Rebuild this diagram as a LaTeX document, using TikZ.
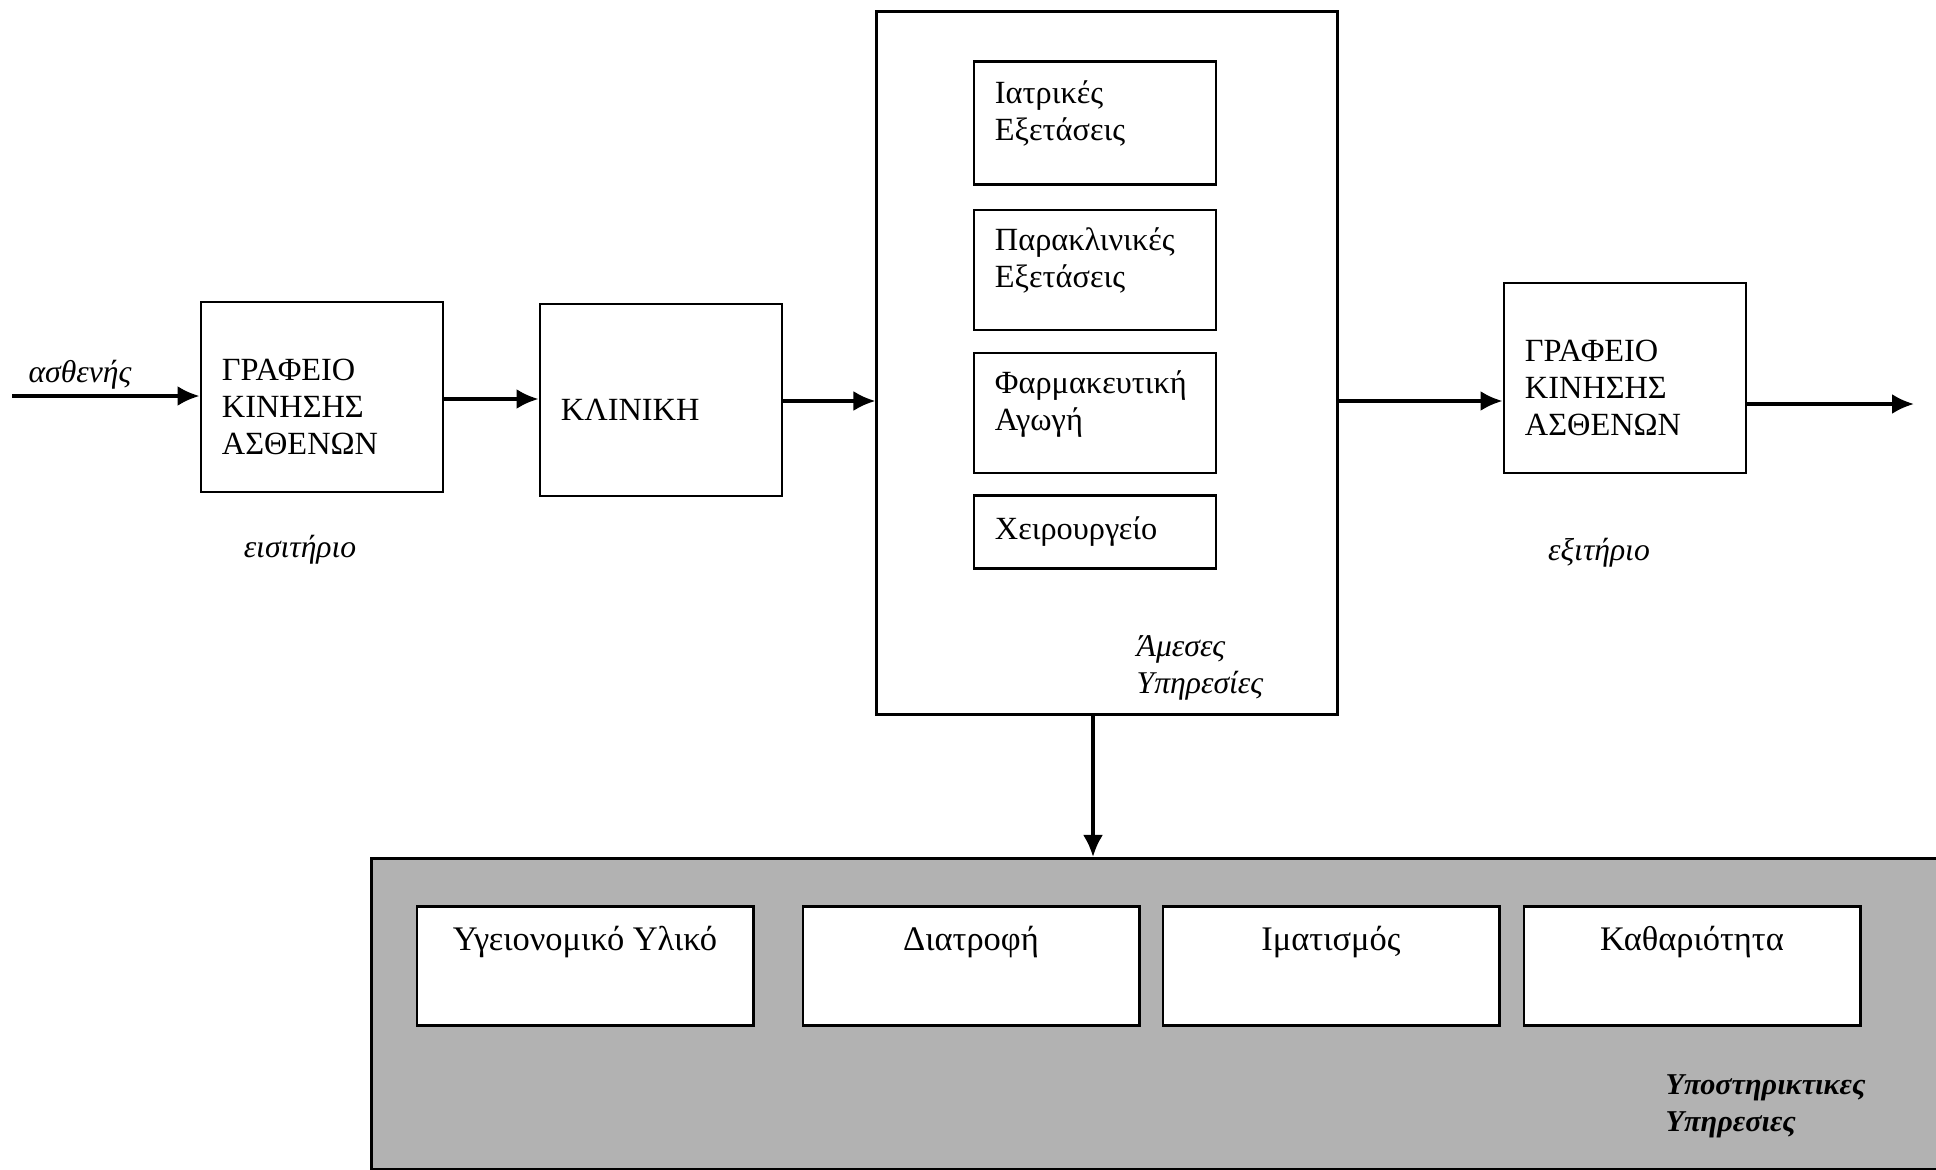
\documentclass[tikz,border=0pt]{standalone}
\usepackage{fontspec}
\setmainfont{Liberation Serif}
\usetikzlibrary{positioning,arrows.meta}

\tikzset{
  box/.style={draw,line width=0.8pt,fill=white,inner xsep=0.21cm,text width=2.0cm,align=left,
    font=\fontsize{9.2}{10.5}\selectfont},
  subbox/.style={draw,line width=0.8pt,fill=white,minimum width=3.36cm,minimum height=1.19cm},
  subtext/.style={inner sep=0pt,font=\fontsize{9.8}{11}\selectfont},
  note/.style={inner sep=0pt,align=left,font=\fontsize{9}{10.5}\selectfont\itshape},
  flow/.style={-{Latex[length=0.22cm,width=0.2cm]},line width=1pt}
}
% empty lines that push the text of a box down or up
\newcommand{\boxtextdown}{\mbox{}\\[1.3pt]}
\newcommand{\boxtextup}{\\[-3.6pt]\mbox{}}

\begin{document}
\begin{tikzpicture}[x=0.01cm,y=-0.01cm]
        \useasboundingbox (0,0) rectangle (1936,1170);
        % Support services area
        \node[draw,line width=0.8pt,fill=black!30,anchor=north west,inner sep=0pt,
              minimum width=15.8cm,minimum height=3.11cm] (support) at (370,857) {};
        % Patient flow
        \coordinate (in) at (12,396);
        \node[box,minimum height=1.90cm] (office1) at (322,397) {\boxtextdown ΓΡΑΦΕΙΟ\\ΚΙΝΗΣΗΣ\\ΑΣΘΕΝΩΝ};
        \node[box,minimum height=1.92cm] (clinic) at (661,400) {\boxtextdown ΚΛΙΝΙΚΗ};
        \node[draw,line width=0.8pt,minimum width=4.60cm,minimum height=7.02cm] (direct) at (1107,363) {};
        \node[box,minimum height=1.90cm] (office2) at (1625,378) {\boxtextdown ΓΡΑΦΕΙΟ\\ΚΙΝΗΣΗΣ\\ΑΣΘΕΝΩΝ};
        \coordinate (out) at (1914,404);
        % Direct services
        \node[box,minimum height=1.23cm] (exams) at (1095,123) {Ιατρικές\\Εξετάσεις\boxtextup};
        \node[box,minimum height=1.20cm] (paraexams) at (1095,270) {Παρακλινικές\\Εξετάσεις\boxtextup};
        \node[box,minimum height=1.20cm] (pharma) at (1095,413) {Φαρμακευτική\\Αγωγή\boxtextup};
        \node[box,minimum height=0.73cm] (surgery) at (1095,532) {Χειρουργείο};
        \node[note,anchor=west] (directlbl) at (1136,668) {Άμεσες\\Υπηρεσίες};
        % Labels
        \node[note,anchor=south] (patient) at (80,390) {ασθενής};
        \node[note] (ticketin) at (300,550) {εισιτήριο};
        \node[note] (ticketout) at (1599,553) {εξιτήριο};
        % Arrows
        \draw[flow] (in) -- (in -| office1.west);
        \draw[flow] (office1.east |- 0,399) -- (clinic.west |- 0,399);
        \draw[flow] (clinic.east |- 0,401) -- (direct.west |- 0,401);
        \draw[flow] (direct.east |- 0,401) -- (office2.west |- 0,401);
        \draw[flow] (office2.east |- out) -- (out);
        \coordinate (down) at (1093,857);
        \draw[flow] (down |- direct.south) -- (down);
        % Support services
        \node[subbox] (supplies) at (585,966) {};
        \node[subbox] (diet) at (971,966) {};
        \node[subbox] (linen) at (1331,966) {};
        \node[subbox] (cleaning) at (1692,966) {};
        \path (supplies.north) ++(0,37) node[subtext] (suppliestxt) {Υγειονομικό Υλικό};
        \path (diet.north) ++(0,37) node[subtext] (diettxt) {Διατροφή};
        \path (linen.north) ++(0,37) node[subtext] (linentxt) {Ιματισμός};
        \path (cleaning.north) ++(0,37) node[subtext] (cleaningtxt) {Καθαριότητα};
        \node[note,font=\fontsize{8.6}{10.5}\selectfont\bfseries\itshape,anchor=west] (supportlbl) at (1665,1106)
              {Υποστηρικτικες\\Υπηρεσιες};
\end{tikzpicture}
\end{document}
